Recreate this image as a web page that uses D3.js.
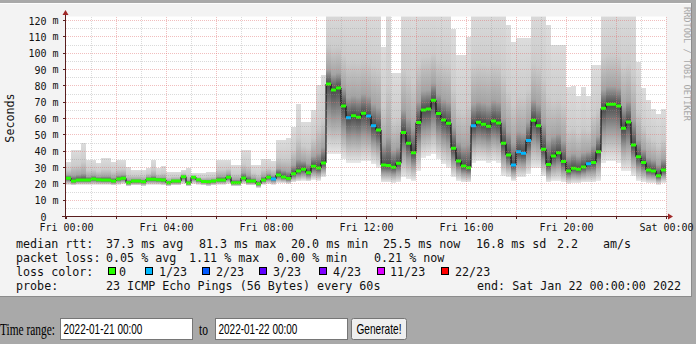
<!DOCTYPE html>
<html><head><meta charset="utf-8">
<script src="https://cdn.jsdelivr.net/npm/d3@7"></script>
<style>
html,body{margin:0;padding:0;background:#a9a9a9;}
svg{display:block;}
.mono{font-family:"DejaVu Sans Mono",monospace;}
</style></head>
<body>
<script>
// ---------------- data ----------------
const startTime = "2022-01-21T00:00:00Z";
const endTime = "2022-01-22T00:00:00Z";
const binMinutes = 12;
const medianMs = [23.4,21.7,22.3,22.3,22.3,23.0,22.5,22.3,22.3,21.7,
 23.0,23.4,20.7,21.7,21.7,21.3,22.8,22.8,22.5,22.3,
 20.7,21.7,21.7,24.4,20.5,24.0,22.5,21.5,21.3,21.7,
 22.3,22.3,24.0,20.7,20.7,23.6,21.7,21.7,20.0,22.3,
 24.0,23.0,25.4,24.2,23.2,26.2,27.8,28.9,26.8,30.7,
 29.7,32.8,81.1,77.5,78.7,67.7,60.5,61.7,60.7,63.2,
 61.6,55.6,53.0,31.5,31.2,30.2,32.6,51.5,44.8,39.1,
 57.5,65.2,65.8,71.1,63.0,59.1,57.1,41.8,34.0,30.9,
 29.9,55.6,57.7,56.5,55.2,58.5,57.3,44.8,37.7,31.5,
 39.7,38.7,46.6,58.9,55.6,41.1,31.9,37.0,39.1,33.6,
 27.9,29.5,28.9,30.3,32.3,33.0,39.7,66.2,68.7,68.7,
 67.7,54.0,57.9,43.8,36.6,33.0,28.5,27.9,25.0,28.5];
const lossIndex = [0,0,0,0,0,0,0,0,0,0, 0,0,0,0,0,0,0,0,0,0,
 0,0,0,0,0,0,0,0,0,0, 0,0,0,0,0,0,0,0,0,0,
 0,1,0,0,0,0,0,0,0,0, 0,0,0,0,0,0,1,0,0,0,
 1,1,0,0,0,0,0,0,0,0, 0,0,0,0,0,0,0,0,0,0,
 0,1,0,0,0,0,0,0,0,1, 1,1,1,0,0,0,0,0,0,0,
 0,0,0,0,1,0,0,0,0,0, 0,0,0,0,0,0,0,0,0,0];
const smokeMax = [33.6,40.7,40.7,44.8,34.6,34.6,33.0,35.6,35.6,33.6,
 34.6,34.6,30.5,28.5,28.5,28.5,30.0,34.6,29.5,31.0,
 27.3,27.3,27.3,28.5,30.0,26.4,26.4,26.4,27.3,27.3,
 34.6,34.6,34.4,31.5,31.5,40.7,40.7,31.5,31.5,35.0,
 35.0,34.0,46.8,46.8,48.0,55.0,69.0,58.0,58.0,65.0,
 80.5,86.6,130,130,130,130,130,130,130,130,
 130,130,130,104,130,88,88,130,130,125,
 130,130,130,130,130,130,130,115,99,99,
 110,130,130,130,130,130,130,130,117,107,
 109,109,109,130,130,130,117,105,105,105,
 79.5,80,74,79.5,74,92.8,92.8,130,130,130,
 130,130,130,130,94.8,78.5,71.3,66,63,66];
const smokeMin = [19.5,19,19.5,19.5,19.5,19.5,19.5,19.5,19.5,19,
 19.5,20,18.5,19,19,18.5,19.5,19.5,19.5,19,
 18.5,19,19,20,18.5,20,19.5,19,18.5,19,
 19.5,19.5,20,18.5,18.5,20,19,19,17.5,19.5,
 20,19.5,20.5,20.5,20,21,21.5,22,21.5,22.5,
 22,24,38,38,38,35,33,33,33,34,
 34,32,30,21,21,20.5,21,24,23,22,
 28,36,37,38,35,32,30,24,22,21,
 21,33,34,34,33,34,33,25,24,22,
 24,24,26,30,30,25,21,22,22,21,
 20,20.5,20.5,21,21,21,22,33,34,34,
 33,28,28,25,22,21,20.5,20.5,19.5,20.5];
const yTicks = [0,10,20,30,40,50,60,70,80,90,100,110,120];
const lossColors = ["#26ff00","#00b8ff","#0059ff","#5e00ff","#7e00ff","#dd00ff","#ff0000"];
const lossLabels = ["0","1/23","2/23","3/23","4/23","11/23","22/23"];
const legendLine1 = [["median rtt:",16],["37.3 ms avg",106],["81.3 ms max",199],["20.0 ms min",291],["25.5 ms now",383],["16.8 ms sd",476],["2.2",557],["am/s",603]];
const legendLine2 = [["packet loss:",16],["0.05 % avg",106],["1.11 % max",189],["0.00 % min",277],["0.21 % now",374]];
const legendLine4 = [["probe:",16],["23 ICMP Echo Pings (56 Bytes) every 60s",106],["end: Sat Jan 22 00:00:00 2022",477]];
const formFrom = "2022-01-21 00:00";
const formTo = "2022-01-22 00:00";

// ---------------- layout ----------------
const W = 696, H = 344;
const svg = d3.select("body").append("svg").attr("width", W).attr("height", H);
const t0 = new Date(startTime), t1 = new Date(endTime);
const x = d3.scaleUtc().domain([t0, t1]).range([66, 666]);
const y = d3.scaleLinear().domain([0, 120]).range([216.5, 20.5]);
const binT = i => new Date(t0.getTime() + i * binMinutes * 60000);
const bins = medianMs.map((m, i) => ({i, t: binT(i), t2: binT(i + 1), med: m, lo: smokeMin[i], hi: smokeMax[i], loss: lossIndex[i]}));

// canvas
svg.append("rect").attr("x", 0).attr("y", 0).attr("width", W).attr("height", H).attr("fill", "#a9a9a9");
svg.append("rect").attr("x", 0).attr("y", 3).attr("width", 692).attr("height", 294).attr("fill", "#f3f3f3");
svg.append("line").attr("x1", 0).attr("x2", 692).attr("y1", 3.5).attr("y2", 3.5).attr("stroke", "#fdfdfd");
svg.append("line").attr("x1", 691.5).attr("x2", 691.5).attr("y1", 3).attr("y2", 297).attr("stroke", "#8c8c8c");
svg.append("line").attr("x1", 0).attr("x2", 692).attr("y1", 296.5).attr("y2", 296.5).attr("stroke", "#8c8c8c");

// plot background
svg.append("rect").attr("x", 66).attr("y", 16.5).attr("width", 600).attr("height", 200).attr("fill", "#ffffff");

const defs = svg.append("defs");
defs.append("clipPath").attr("id", "plotclip").append("rect").attr("x", 66).attr("y", 16.5).attr("width", 600).attr("height", 200);

// smoke gradients
bins.forEach(d => {
  const yh = y(d.hi), yl = y(d.lo), ym = y(d.med);
  const m = (ym - yh) / (yl - yh);
  const g = defs.append("linearGradient").attr("id", "sg" + d.i)
    .attr("gradientUnits", "userSpaceOnUse").attr("x1", 0).attr("x2", 0).attr("y1", yh).attr("y2", yl);
  const stops = [[0, "#dcdcdc"], [m * 0.5, "#cccccc"], [m * 0.82, "#a4a4a4"], [m, "#4a4a4a"], [m + (1 - m) * 0.45, "#9c9c9c"], [1, "#e8e8e8"]];
  stops.forEach(s => g.append("stop").attr("offset", Math.max(0, Math.min(1, s[0]))).attr("stop-color", s[1]));
});

const plot = svg.append("g").attr("clip-path", "url(#plotclip)");
plot.selectAll("rect.smoke").data(bins).join("rect").attr("class", "smoke")
  .attr("x", d => x(d.t)).attr("width", d => x(d.t2) - x(d.t))
  .attr("y", d => y(d.hi)).attr("height", d => y(d.lo) - y(d.hi))
  .attr("fill", d => "url(#sg" + d.i + ")").attr("shape-rendering", "crispEdges");

// grid
const gridG = svg.append("g").attr("shape-rendering", "crispEdges");
const hours = d3.utcHour.every(1).range(t0, new Date(t1.getTime() + 1));
const majorCol = "rgba(225,110,110,0.45)", minorCol = "rgba(150,150,150,0.35)";
hours.forEach(h => {
  const major = h.getUTCHours() % 2 === 0;
  if (+h === +t0) return;
  gridG.append("line").attr("x1", x(h)).attr("x2", x(h)).attr("y1", 16.5).attr("y2", 216.5)
    .attr("stroke", major ? majorCol : minorCol).attr("stroke-dasharray", "1,1");
});
d3.range(5, 121, 5).forEach(v => {
  const major = v % 10 === 0;
  gridG.append("line").attr("x1", 66).attr("x2", 666).attr("y1", y(v)).attr("y2", y(v))
    .attr("stroke", major ? majorCol : minorCol).attr("stroke-dasharray", "1,1");
});

// median step line
const stepPts = bins.map(d => [x(d.t), y(d.med)]).concat([[x(t1), y(medianMs[medianMs.length - 1])]]);
plot.append("path").attr("d", d3.line().curve(d3.curveStepAfter)(stepPts))
  .attr("fill", "none").attr("stroke", "#000").attr("stroke-width", 1);
plot.selectAll("line.med").data(bins).join("line").attr("class", "med")
  .attr("x1", d => x(d.t)).attr("x2", d => x(d.t2)).attr("y1", d => y(d.med)).attr("y2", d => y(d.med))
  .attr("stroke", d => lossColors[d.loss]).attr("stroke-width", 3);

// axes
const axisCol = "#5a1e1e";
svg.append("line").attr("x1", 62).attr("x2", 669).attr("y1", 216.5).attr("y2", 216.5).attr("stroke", axisCol).attr("shape-rendering", "crispEdges");
svg.append("line").attr("x1", 65.5).attr("x2", 65.5).attr("y1", 13).attr("y2", 219).attr("stroke", axisCol).attr("shape-rendering", "crispEdges");
svg.append("path").attr("d", "M668,213.5 L673,216.5 L668,219.5 Z").attr("fill", "#a02828");
svg.append("path").attr("d", "M62.5,15 L65.5,10 L68.5,15 Z").attr("fill", "#a02828");
hours.forEach(h => {
  if (h.getUTCHours() % 2 !== 0) return;
  svg.append("line").attr("x1", x(h)).attr("x2", x(h)).attr("y1", 216.5).attr("y2", 219).attr("stroke", axisCol).attr("shape-rendering", "crispEdges");
});
yTicks.forEach(v => {
  svg.append("line").attr("x1", 63).attr("x2", 66).attr("y1", y(v)).attr("y2", y(v)).attr("stroke", axisCol).attr("shape-rendering", "crispEdges");
});

// axis labels via d3 axes
const xAxis = d3.axisBottom(x).ticks(d3.utcHour.every(4)).tickFormat(d3.utcFormat("%a %H:%M")).tickSize(0).tickPadding(0);
const gx = svg.append("g").attr("transform", "translate(0,223.4)").call(xAxis);
gx.select(".domain").remove();
gx.selectAll("text").attr("class", "mono").attr("font-size", 10).attr("fill", "#111").attr("dy", "0.71em").attr("y", 0);

const yAxis = d3.axisLeft(y).tickValues(yTicks).tickFormat(d => d).tickSize(0).tickPadding(0);
const gy = svg.append("g").attr("transform", "translate(46.5,0)").call(yAxis);
gy.select(".domain").remove();
gy.selectAll("text").attr("class", "mono").attr("font-size", 10).attr("fill", "#111").attr("dy", "0.36em");
yTicks.filter(v => v > 0).forEach(v => {
  svg.append("text").attr("class", "mono").attr("font-size", 10).attr("fill", "#111")
    .attr("x", 52.6).attr("y", y(v)).attr("dy", "0.36em").text("m");
});

// y title
svg.append("text").attr("class", "mono").attr("font-size", 11.7).attr("fill", "#111")
  .attr("transform", "translate(14,118) rotate(-90)").attr("text-anchor", "middle").text("Seconds");

// watermark
svg.append("text").attr("class", "mono").attr("font-size", 8.6).attr("fill", "#a8a8a8")
  .attr("transform", "translate(683.5,7) rotate(90)").text("RRDTOOL / TOBI OETIKER");

// legend
const legendG = svg.append("g").attr("class", "mono").attr("font-size", 11.7).attr("fill", "#111");
function legendLine(items, yb) {
  items.forEach(([s, xx]) => legendG.append("text").attr("x", xx).attr("y", yb).style("white-space", "pre").text(s));
}
legendLine(legendLine1, 247.5);
legendLine(legendLine2, 261.5);
legendG.append("text").attr("x", 16).attr("y", 275.5).text("loss color:");
const boxX = [108, 145, 202, 259, 319, 377, 441];
const labX = [119, 159, 216, 273, 333, 390, 455];
lossLabels.forEach((l, i) => {
  legendG.append("rect").attr("x", boxX[i] + 0.5).attr("y", 267.5).attr("width", 7).attr("height", 7)
    .attr("fill", lossColors[i]).attr("stroke", "#000").attr("stroke-width", 1);
  legendG.append("text").attr("x", labX[i]).attr("y", 275.5).text(l);
});
legendLine(legendLine4, 289.5);

// form (condensed text, scaled horizontally to the reference widths)
const form = svg.append("g");
function squeezed(str, x0, yb, family, size, width, anchor) {
  const g = form.append("g");
  const t = g.append("text").attr("x", 0).attr("y", 0).attr("font-family", family).attr("font-size", size)
    .attr("fill", "#000").text(str);
  const natural = t.node().getComputedTextLength();
  const s = width / natural;
  const left = anchor === "middle" ? x0 - width / 2 : x0;
  g.attr("transform", `translate(${left},${yb}) scale(${s},1)`);
}
squeezed("Time range:", 0, 334.5, "Liberation Serif, serif", 16, 55);
[[60.5, formFrom], [215.5, formTo]].forEach(([bx, s]) => {
  form.append("rect").attr("x", bx).attr("y", 318.5).attr("width", 132).attr("height", 21).attr("fill", "#fff").attr("stroke", "#767676");
  squeezed(s, bx + 3, 333.5, "Liberation Sans, Arial, sans-serif", 15, 79);
});
squeezed("to", 199, 334.5, "Liberation Serif, serif", 16, 9);
form.append("rect").attr("x", 351.5).attr("y", 318.5).attr("width", 55).attr("height", 21).attr("rx", 2).attr("fill", "#efefef").attr("stroke", "#767676");
squeezed("Generate!", 379, 333.5, "Liberation Sans, Arial, sans-serif", 15, 45, "middle");
</script>
</body></html>
